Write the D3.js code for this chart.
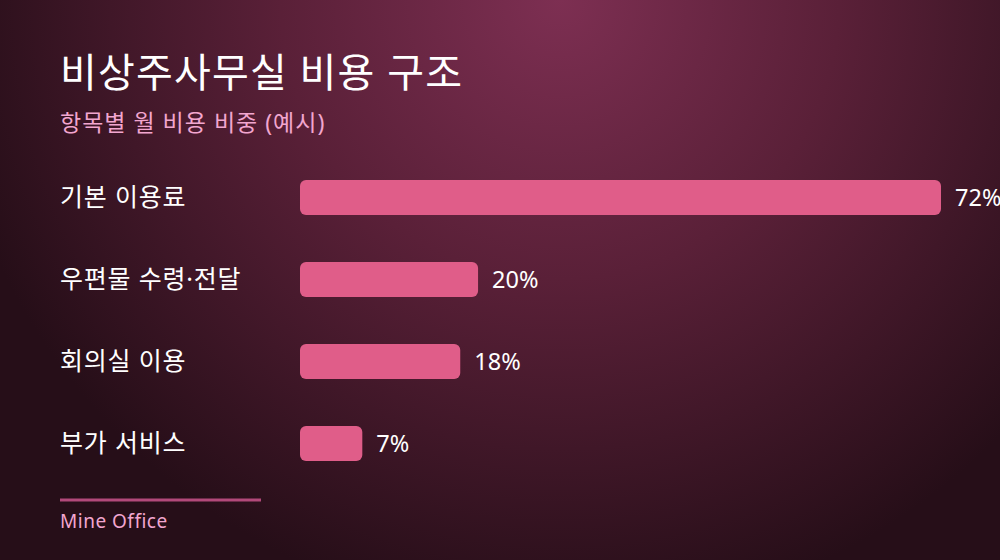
<!DOCTYPE html>
<html>
<head>
<meta charset="utf-8">
<script src="https://cdn.jsdelivr.net/npm/d3@7"></script>
<style>
  html, body { margin: 0; padding: 0; background: #2a0f1b; }
  svg { display: block; font-family: 'Noto Sans', 'Noto Sans CJK KR', sans-serif; }
</style>
</head>
<body>
<div id="chart"></div>
<script>
const categories = ['기본 이용료', '우편물 수령·전달', '회의실 이용', '부가 서비스']
const shares = [72, 20, 18, 7]
const titleText = '비상주사무실 비용 구조'
const subtitleText = '항목별 월 비용 비중 (예시)'
const sourceText = 'Mine Office'

const width = 1000
const height = 560

const svg = d3
  .select('#chart')
  .append('svg')
  .attr('width', width)
  .attr('height', height)

// background glow
const defs = svg.append('defs')
const glow = defs
  .append('radialGradient')
  .attr('id', 'bg-glow')
  .attr('gradientUnits', 'userSpaceOnUse')
  .attr('cx', 560)
  .attr('cy', 0)
  .attr('r', 620)
glow.append('stop').attr('offset', '0%').attr('stop-color', '#7d2f52')
glow.append('stop').attr('offset', '45%').attr('stop-color', '#5a2038')
glow.append('stop').attr('offset', '100%').attr('stop-color', '#260e18')

svg
  .append('rect')
  .attr('width', width)
  .attr('height', height)
  .attr('fill', 'url(#bg-glow)')

const data = categories.map((c, i) => ({ category: c, share: shares[i] }))

const xPositionScale = d3
  .scaleLinear()
  .domain([0, d3.max(shares)])
  .range([300, 941])

const yPositionScale = d3
  .scaleBand()
  .domain(categories)
  .range([180, 461])
  .paddingInner(0.573)
  .paddingOuter(0)

// title block
svg
  .append('text')
  .text(titleText)
  .attr('x', 60)
  .attr('y', 87)
  .attr('fill', '#ffffff')
  .attr('font-size', 40)
  .attr('letter-spacing', 1.2)

svg
  .append('text')
  .text(subtitleText)
  .attr('x', 60)
  .attr('y', 131)
  .attr('fill', '#f2a6cf')
  .attr('font-size', 23)
  .attr('letter-spacing', 1)

// bars
svg
  .selectAll('.bar')
  .data(data)
  .enter()
  .append('rect')
  .attr('class', 'bar')
  .attr('x', xPositionScale(0))
  .attr('y', d => yPositionScale(d.category))
  .attr('width', d => xPositionScale(d.share) - xPositionScale(0))
  .attr('height', yPositionScale.bandwidth())
  .attr('rx', 6)
  .attr('fill', '#e05d89')

// category labels
svg
  .selectAll('.cat-label')
  .data(data)
  .enter()
  .append('text')
  .attr('class', 'cat-label')
  .text(d => d.category)
  .attr('x', 60)
  .attr('y', d => yPositionScale(d.category) + yPositionScale.bandwidth() / 2)
  .attr('dy', '0.35em')
  .attr('fill', '#ffffff')
  .attr('font-size', 25)
  .attr('letter-spacing', 0.8)

// value labels
svg
  .selectAll('.val-label')
  .data(data)
  .enter()
  .append('text')
  .attr('class', 'val-label')
  .text(d => d.share + '%')
  .attr('x', d => xPositionScale(d.share) + 14)
  .attr('y', d => yPositionScale(d.category) + yPositionScale.bandwidth() / 2)
  .attr('dy', '0.35em')
  .attr('fill', '#ffffff')
  .attr('font-size', 23.5)

// footer
svg
  .append('line')
  .attr('x1', 60)
  .attr('x2', 261)
  .attr('y1', 500)
  .attr('y2', 500)
  .attr('stroke', '#b2497a')
  .attr('stroke-width', 3)

svg
  .append('text')
  .text(sourceText)
  .attr('x', 60)
  .attr('y', 528)
  .attr('fill', '#f2a6cf')
  .attr('font-size', 19)
  .attr('letter-spacing', 0.5)
</script>
</body>
</html>
